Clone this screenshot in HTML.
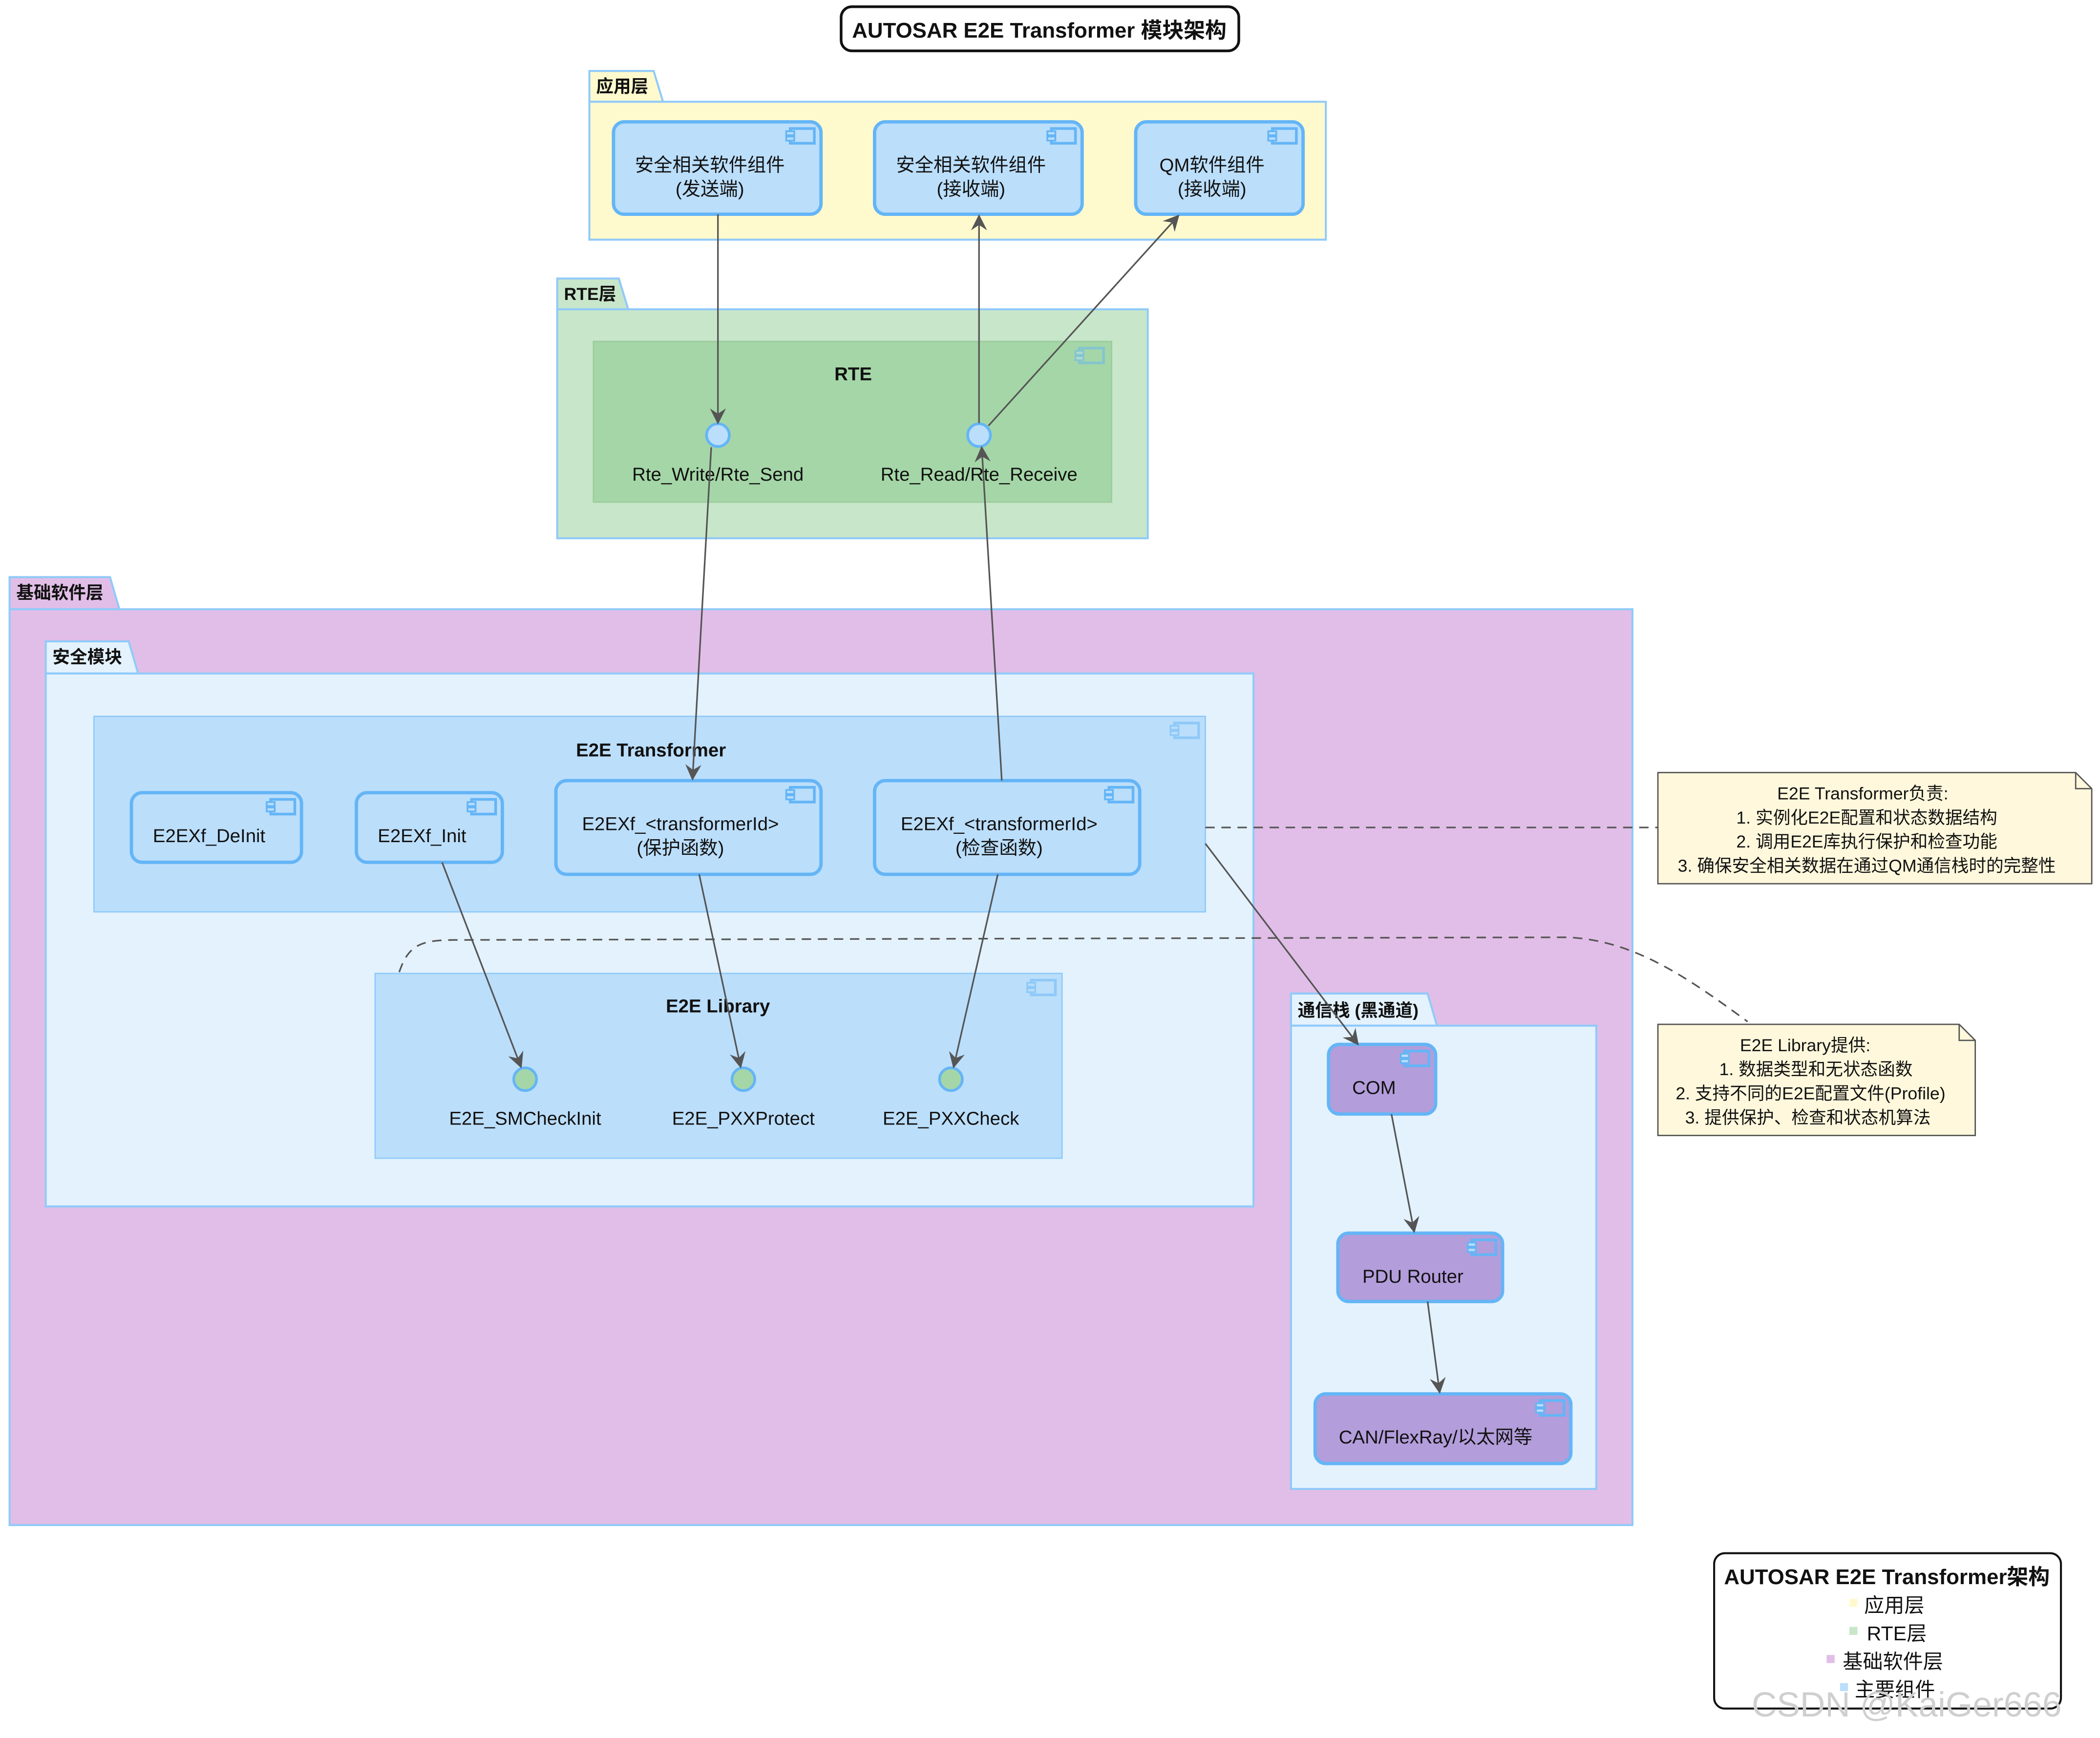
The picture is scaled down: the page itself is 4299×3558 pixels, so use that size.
<!DOCTYPE html>
<html><head><meta charset="utf-8"><style>
html,body{margin:0;padding:0;background:#fff}
svg{display:block}
text{font-family:"Liberation Sans","Noto Sans CJK SC",sans-serif;fill:#111}
.b{font-weight:bold}
</style></head><body>
<svg width="4299" height="3558" viewBox="0 0 1568 1298" xmlns="http://www.w3.org/2000/svg">
<defs>
<marker id="ar" viewBox="0 0 12 12" refX="11" refY="6" markerWidth="12" markerHeight="12" markerUnits="userSpaceOnUse" orient="auto"><path d="M0,0 L12,6 L0,12 L4,6 z" fill="#555"/></marker>
<g id="ci"><rect x="0" y="0" width="18" height="11" fill="none" stroke="#64b5f6" stroke-width="2"/><rect x="-3" y="2" width="6" height="3" fill="#bbdefb" stroke="#64b5f6" stroke-width="1.3"/><rect x="-3" y="6" width="6" height="3" fill="#bbdefb" stroke="#64b5f6" stroke-width="1.3"/></g>
</defs>
<rect width="1568" height="1298" fill="#fff"/>
<!-- title -->
<rect x="628" y="5" width="297" height="33" rx="8" fill="#fff" stroke="#111" stroke-width="2"/>
<text x="776" y="28" text-anchor="middle" class="b" font-size="16">AUTOSAR E2E Transformer 模块架构</text>

<!-- app layer -->
<path d="M440,53 H488 L495,76 H440 Z" fill="#fffacd" stroke="#90caf9" stroke-width="1.5"/>
<rect x="440" y="76" width="550" height="103" fill="#fffacd" stroke="#90caf9" stroke-width="1.5"/>
<text x="445" y="69" class="b" font-size="13">应用层</text>
<g font-size="14" text-anchor="middle">
<rect x="458" y="91" width="155" height="69" rx="8" fill="#bbdefb" stroke="#64b5f6" stroke-width="2.5"/><use href="#ci" x="590" y="96"/>
<text x="530" y="128">安全相关软件组件</text><text x="530" y="146">(发送端)</text>
<rect x="653" y="91" width="155" height="69" rx="8" fill="#bbdefb" stroke="#64b5f6" stroke-width="2.5"/><use href="#ci" x="785" y="96"/>
<text x="725" y="128">安全相关软件组件</text><text x="725" y="146">(接收端)</text>
<rect x="848" y="91" width="125" height="69" rx="8" fill="#bbdefb" stroke="#64b5f6" stroke-width="2.5"/><use href="#ci" x="950" y="96"/>
<text x="905" y="128">QM软件组件</text><text x="905" y="146">(接收端)</text>
</g>

<!-- RTE layer -->
<path d="M416,208 H462 L469,231 H416 Z" fill="#c8e6c9" stroke="#90caf9" stroke-width="1.5"/>
<rect x="416" y="231" width="441" height="171" fill="#c8e6c9" stroke="#90caf9" stroke-width="1.5"/>
<text x="421" y="224" class="b" font-size="13">RTE层</text>
<rect x="443" y="255" width="387" height="120" fill="#a5d6a7" stroke="#9ccc9e" stroke-width="1"/>
<g opacity="0.5"><use href="#ci" x="806" y="260"/></g>
<text x="637" y="284" text-anchor="middle" class="b" font-size="14">RTE</text>
<circle cx="536" cy="325" r="8.5" fill="#bbdefb" stroke="#64b5f6" stroke-width="2"/>
<circle cx="731" cy="325" r="8.5" fill="#bbdefb" stroke="#64b5f6" stroke-width="2"/>
<text x="536" y="359" text-anchor="middle" font-size="14">Rte_Write/Rte_Send</text>
<text x="731" y="359" text-anchor="middle" font-size="14">Rte_Read/Rte_Receive</text>

<!-- base layer -->
<path d="M7,431 H82 L89,455 H7 Z" fill="#e1bee7" stroke="#90caf9" stroke-width="1.5"/>
<rect x="7" y="455" width="1212" height="684" fill="#e1bee7" stroke="#90caf9" stroke-width="1.5"/>
<text x="12" y="447" class="b" font-size="13">基础软件层</text>

<!-- security module -->
<path d="M34,479 H96 L103,503 H34 Z" fill="#e3f2fd" stroke="#90caf9" stroke-width="1.5"/>
<rect x="34" y="503" width="902" height="398" fill="#e3f2fd" stroke="#90caf9" stroke-width="1.5"/>
<text x="39" y="495" class="b" font-size="13">安全模块</text>

<rect x="70" y="535" width="830" height="146" fill="#bbdefb" stroke="#90caf9" stroke-width="1"/>
<g opacity="0.5"><use href="#ci" x="877" y="540"/></g>
<text x="486" y="565" text-anchor="middle" class="b" font-size="14">E2E Transformer</text>
<g font-size="14" text-anchor="middle">
<rect x="98" y="592" width="127" height="52" rx="8" fill="#bbdefb" stroke="#64b5f6" stroke-width="2.5"/><use href="#ci" x="202" y="597"/>
<text x="156" y="629">E2EXf_DeInit</text>
<rect x="266" y="592" width="109" height="52" rx="8" fill="#bbdefb" stroke="#64b5f6" stroke-width="2.5"/><use href="#ci" x="352" y="597"/>
<text x="315" y="629">E2EXf_Init</text>
<rect x="415" y="583" width="198" height="70" rx="8" fill="#bbdefb" stroke="#64b5f6" stroke-width="2.5"/><use href="#ci" x="590" y="588"/>
<text x="508" y="620">E2EXf_&lt;transformerId&gt;</text><text x="508" y="638">(保护函数)</text>
<rect x="653" y="583" width="198" height="70" rx="8" fill="#bbdefb" stroke="#64b5f6" stroke-width="2.5"/><use href="#ci" x="828" y="588"/>
<text x="746" y="620">E2EXf_&lt;transformerId&gt;</text><text x="746" y="638">(检查函数)</text>
</g>

<rect x="280" y="727" width="513" height="138" fill="#bbdefb" stroke="#90caf9" stroke-width="1"/>
<g opacity="0.5"><use href="#ci" x="770" y="732"/></g>
<text x="536" y="756" text-anchor="middle" class="b" font-size="14">E2E Library</text>
<circle cx="392" cy="806" r="8.5" fill="#a5d6a7" stroke="#64b5f6" stroke-width="2"/>
<circle cx="555" cy="806" r="8.5" fill="#a5d6a7" stroke="#64b5f6" stroke-width="2"/>
<circle cx="710" cy="806" r="8.5" fill="#a5d6a7" stroke="#64b5f6" stroke-width="2"/>
<g font-size="14" text-anchor="middle">
<text x="392" y="840">E2E_SMCheckInit</text><text x="555" y="840">E2E_PXXProtect</text><text x="710" y="840">E2E_PXXCheck</text>
</g>

<!-- comm stack -->
<path d="M964,742 H1066 L1073,766 H964 Z" fill="#e3f2fd" stroke="#90caf9" stroke-width="1.5"/>
<rect x="964" y="766" width="228" height="346" fill="#e3f2fd" stroke="#90caf9" stroke-width="1.5"/>
<text x="969" y="759" class="b" font-size="13">通信栈 (黑通道)</text>
<g font-size="14" text-anchor="middle">
<rect x="992" y="780" width="80" height="52" rx="8" fill="#b39ddb" stroke="#64b5f6" stroke-width="2.5"/><use href="#ci" x="1049" y="785"/>
<text x="1026" y="817">COM</text>
<rect x="999" y="921" width="123" height="51" rx="8" fill="#b39ddb" stroke="#64b5f6" stroke-width="2.5"/><use href="#ci" x="1099" y="926"/>
<text x="1055" y="958">PDU Router</text>
<rect x="982" y="1041" width="191" height="52" rx="8" fill="#b39ddb" stroke="#64b5f6" stroke-width="2.5"/><use href="#ci" x="1150" y="1046"/>
<text x="1072" y="1078">CAN/FlexRay/以太网等</text>
</g>

<!-- arrows -->
<g stroke="#555" stroke-width="1.2" fill="none">
<line x1="536" y1="160" x2="536" y2="316" marker-end="url(#ar)"/>
<line x1="731" y1="316" x2="731" y2="161" marker-end="url(#ar)"/>
<line x1="738" y1="318" x2="880" y2="161" marker-end="url(#ar)"/>
<line x1="531" y1="334" x2="517" y2="582" marker-end="url(#ar)"/>
<line x1="748" y1="583" x2="733" y2="334" marker-end="url(#ar)"/>
<line x1="330" y1="644" x2="389" y2="797" marker-end="url(#ar)"/>
<line x1="522" y1="653" x2="553" y2="797" marker-end="url(#ar)"/>
<line x1="745" y1="653" x2="712" y2="797" marker-end="url(#ar)"/>
<line x1="900" y1="630" x2="1014" y2="780" marker-end="url(#ar)"/>
<line x1="1039" y1="832" x2="1056" y2="920" marker-end="url(#ar)"/>
<line x1="1066" y1="972" x2="1075" y2="1040" marker-end="url(#ar)"/>
<g stroke-dasharray="7,5">
<line x1="900" y1="618" x2="1238" y2="618"/>
<path d="M298,726 C305,705 315,702 340,702 L1170,700 C1220,702 1260,730 1305,763"/>
</g>
</g>

<!-- notes -->
<path d="M1238,577 H1550 L1562,589 V660 H1238 Z" fill="#fff8dc" stroke="#555" stroke-width="1"/>
<path d="M1550,577 V589 H1562" fill="none" stroke="#555" stroke-width="1"/>
<g font-size="13" text-anchor="middle">
<text x="1391" y="597">E2E Transformer负责:</text>
<text x="1394" y="615">1. 实例化E2E配置和状态数据结构</text>
<text x="1394" y="633">2. 调用E2E库执行保护和检查功能</text>
<text x="1394" y="651">3. 确保安全相关数据在通过QM通信栈时的完整性</text>
</g>
<path d="M1238,765 H1463 L1475,777 V848 H1238 Z" fill="#fff8dc" stroke="#555" stroke-width="1"/>
<path d="M1463,765 V777 H1475" fill="none" stroke="#555" stroke-width="1"/>
<g font-size="13" text-anchor="middle">
<text x="1348" y="785">E2E Library提供:</text>
<text x="1356" y="803">1. 数据类型和无状态函数</text>
<text x="1352" y="821">2. 支持不同的E2E配置文件(Profile)</text>
<text x="1350" y="839">3. 提供保护、检查和状态机算法</text>
</g>

<!-- legend -->
<rect x="1280" y="1160" width="259" height="116" rx="8" fill="#fff" stroke="#111" stroke-width="1.5"/>
<text x="1409" y="1183" text-anchor="middle" class="b" font-size="16">AUTOSAR E2E Transformer架构</text>
<g font-size="15">
<rect x="1381" y="1194" width="6" height="6" fill="#fffacd"/><text x="1392" y="1204">应用层</text>
<rect x="1381" y="1215" width="6" height="6" fill="#c8e6c9"/><text x="1394" y="1225">RTE层</text>
<rect x="1364" y="1236" width="6" height="6" fill="#e1bee7"/><text x="1376" y="1246">基础软件层</text>
<rect x="1374" y="1257" width="6" height="6" fill="#bbdefb"/><text x="1385" y="1267">主要组件</text>
</g>
<text x="1308" y="1282" font-size="26" fill="#ccc" style="fill:#cfcfcf">CSDN @KaiGer666</text>
</svg>
</body></html>
